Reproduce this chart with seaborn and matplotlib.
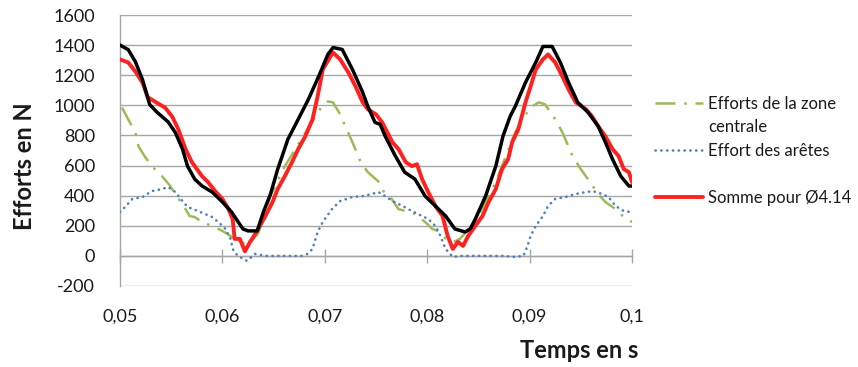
import matplotlib
matplotlib.use("Agg")
import matplotlib.pyplot as plt
from matplotlib.lines import Line2D
import pandas as pd
import seaborn as sns

# ---------------- data ----------------
t_black = [0.0500, 0.0508, 0.0515, 0.0522, 0.0529, 0.0536, 0.0547, 0.0554, 0.0561, 0.0566,
           0.0573, 0.0580, 0.0590, 0.0600, 0.0609, 0.0620, 0.0625, 0.0634, 0.0640, 0.0647,
           0.0654, 0.0664, 0.0674, 0.0684, 0.0694, 0.0703, 0.0708, 0.0717, 0.0727, 0.0737,
           0.0742, 0.0749, 0.0754, 0.0759, 0.0769, 0.0778, 0.0788, 0.0798, 0.0808, 0.0818,
           0.0827, 0.0837, 0.0842, 0.0847, 0.0857, 0.0867, 0.0874, 0.0881, 0.0886, 0.0896,
           0.0906, 0.0913, 0.0922, 0.0930, 0.0938, 0.0947, 0.0957, 0.0967, 0.0974, 0.0981,
           0.0989, 0.0997, 0.1000]
f_black = [1400, 1370, 1290, 1170, 1005, 955, 890, 820, 710, 595,
           510, 465, 424, 358, 291, 179, 166, 166, 291, 411,
           576, 775, 907, 1040, 1192, 1338, 1384, 1371, 1238, 1086,
           993, 887, 874, 795, 662, 556, 510, 397, 331, 265,
           179, 159, 179, 245, 397, 596, 795, 927, 993, 1152,
           1285, 1391, 1391, 1285, 1152, 1020, 954, 861, 755, 642,
           530, 464, 464]

t_somme = [0.0500, 0.0508, 0.0515, 0.0522, 0.0527, 0.0534, 0.0544, 0.0551, 0.0557, 0.0564,
           0.0570, 0.0580, 0.0586, 0.0593, 0.0600, 0.0606, 0.0610, 0.0612, 0.0617, 0.0622,
           0.0627, 0.0629, 0.0635, 0.0642, 0.0649, 0.0654, 0.0661, 0.0668, 0.0674, 0.0681,
           0.0688, 0.0693, 0.0698, 0.0705, 0.0708, 0.0715, 0.0723, 0.0730, 0.0737, 0.0742,
           0.0750, 0.0756, 0.0766, 0.0772, 0.0779, 0.0785, 0.0790, 0.0795, 0.0801, 0.0808,
           0.0815, 0.0820, 0.0825, 0.0830, 0.0835, 0.0840, 0.0847, 0.0854, 0.0860, 0.0867,
           0.0873, 0.0879, 0.0883, 0.0889, 0.0896, 0.0901, 0.0906, 0.0913, 0.0918, 0.0925,
           0.0932, 0.0938, 0.0945, 0.0955, 0.0961, 0.0967, 0.0974, 0.0981, 0.0987, 0.0992,
           0.0997, 0.1000]
f_somme = [1305, 1285, 1225, 1150, 1055, 1025, 985, 925, 840, 710,
           625, 530, 490, 430, 378, 311, 245, 113, 113, 30,
           93, 113, 179, 265, 358, 444, 530, 623, 709, 795,
           907, 1060, 1238, 1318, 1351, 1305, 1219, 1126, 1020, 974,
           940, 887, 755, 709, 623, 596, 609, 510, 424, 331,
           265, 132, 46, 93, 66, 132, 199, 265, 358, 444,
           576, 642, 755, 841, 1020, 1126, 1238, 1305, 1338, 1285,
           1192, 1106, 1020, 974, 927, 861, 795, 709, 662, 576,
           556, 490]

t_zone = [0.0502, 0.0508, 0.0515, 0.0518, 0.0524, 0.0531, 0.0541, 0.0549, 0.0556, 0.0564,
          0.0568, 0.0573, 0.0580, 0.0590, 0.0600, 0.0608, 0.0617, 0.0625, 0.0635, 0.0647,
          0.0661, 0.0679, 0.0697, 0.0703, 0.0708, 0.0715, 0.0720, 0.0727, 0.0735, 0.0742,
          0.0752, 0.0757, 0.0762, 0.0772, 0.0782, 0.0788, 0.0798, 0.0805, 0.0813, 0.0818,
          0.0826, 0.0832, 0.0847, 0.0857, 0.0867, 0.0873, 0.0886, 0.0893, 0.0901, 0.0909,
          0.0915, 0.0925, 0.0932, 0.0942, 0.0950, 0.0957, 0.0967, 0.0974, 0.0984, 0.0992,
          0.1000]
f_zone = [985, 907, 821, 729, 662, 596, 530, 464, 391, 311,
          265, 258, 225, 199, 166, 132, 95, 70, 150, 400,
          596, 795, 993, 1026, 1020, 940, 861, 755, 623, 556,
          497, 430, 411, 311, 291, 278, 225, 179, 159, 113,
          93, 113, 225, 358, 490, 596, 821, 907, 987, 1020,
          1007, 907, 821, 662, 576, 510, 411, 358, 311, 258,
          225]

t_aretes = [0.0500, 0.0505, 0.0512, 0.0522, 0.0531, 0.0541, 0.0547, 0.0554, 0.0561, 0.0566,
            0.0576, 0.0583, 0.0590, 0.0596, 0.0603, 0.0608, 0.0610, 0.0615, 0.0624, 0.0632,
            0.0642, 0.0654, 0.0668, 0.0678, 0.0683, 0.0688, 0.0693, 0.0698, 0.0707, 0.0715,
            0.0727, 0.0737, 0.0746, 0.0752, 0.0756, 0.0766, 0.0776, 0.0785, 0.0791, 0.0801,
            0.0808, 0.0813, 0.0818, 0.0825, 0.0834, 0.0847, 0.0860, 0.0873, 0.0886, 0.0894,
            0.0898, 0.0901, 0.0906, 0.0913, 0.0918, 0.0925, 0.0935, 0.0945, 0.0955, 0.0962,
            0.0971, 0.0977, 0.0984, 0.0992, 0.0999]
f_aretes = [291, 325, 378, 391, 430, 444, 457, 424, 364, 325,
            298, 278, 258, 225, 179, 113, 46, 0, -33, 13,
            0, 0, 0, 0, 13, 46, 159, 225, 311, 364,
            391, 397, 411, 424, 411, 364, 331, 298, 278, 245,
            199, 132, 46, -7, 0, 0, 0, 0, -7, 0,
            66, 132, 199, 265, 331, 378, 391, 411, 424, 430,
            411, 391, 331, 298, 291]

x_ticks = [0.05, 0.06, 0.07, 0.08, 0.09, 0.10]
x_tick_labels = ["0,05", "0,06", "0,07", "0,08", "0,09", "0,1"]
y_ticks = [-200, 0, 200, 400, 600, 800, 1000, 1200, 1400, 1600]
y_tick_labels = ["-200", "0", "200", "400", "600", "800", "1000", "1200", "1400", "1600"]

label_zone = ["Efforts de la zone", "centrale"]
label_aretes = "Effort des arêtes"
label_somme = "Somme pour Ø4.14"
x_title = "Temps en s"
y_title = "Efforts en N"

# ---------------- styling ----------------
sns.set_theme(style="white")
plt.rcParams["font.family"] = ["Lato", "DejaVu Sans"]
TEXT = "#1a1a1a"
GRID = "#a6a6a6"
C_ZONE = "#9BBB59"
C_ARETES = "#4F81BD"
C_SOMME = "#FF2020"
C_BLACK = "#000000"

fig = plt.figure(figsize=(8.58, 3.67), dpi=100, facecolor="white")
ax = fig.add_axes([120 / 858, 1 - 286 / 367, (632 - 120) / 858, (286 - 15) / 367])

zone_ls = (0, (8, 3.5, 1, 3.5))
dot_ls = (0, (0.1, 2.1))

df_zone = pd.DataFrame({"t": t_zone, "F": f_zone})
df_aretes = pd.DataFrame({"t": t_aretes, "F": f_aretes})
df_somme = pd.DataFrame({"t": t_somme, "F": f_somme})
df_black = pd.DataFrame({"t": t_black, "F": f_black})

sns.lineplot(data=df_zone, x="t", y="F", ax=ax, color=C_ZONE, lw=1.8,
             linestyle=zone_ls, errorbar=None, zorder=3)
sns.lineplot(data=df_aretes, x="t", y="F", ax=ax, color=C_ARETES, lw=1.9,
             linestyle=dot_ls, dash_capstyle="round", errorbar=None, zorder=3)
sns.lineplot(data=df_somme, x="t", y="F", ax=ax, color=C_SOMME, lw=2.8,
             errorbar=None, zorder=4)
sns.lineplot(data=df_black, x="t", y="F", ax=ax, color=C_BLACK, lw=2.5,
             errorbar=None, zorder=5)

ax.set_xlim(0.05, 0.1)
ax.set_ylim(-200, 1600)
ax.set_xlabel("")
ax.set_ylabel("")

# y axis
ax.set_yticks(y_ticks, labels=y_tick_labels)
ax.tick_params(axis="y", length=0, pad=18, labelsize=13, labelcolor=TEXT)
ax.yaxis.grid(True, color=GRID, lw=1.0)
ax.xaxis.grid(False)
for s in ["top", "right"]:
    ax.spines[s].set_visible(False)
ax.spines["left"].set_color(GRID)
ax.spines["left"].set_linewidth(1.0)

# x axis line crossing at 0 with cross ticks
ax.spines["bottom"].set_position(("data", 0))
ax.spines["bottom"].set_color(GRID)
ax.spines["bottom"].set_linewidth(1.0)
ax.set_xticks(x_ticks)
ax.tick_params(axis="x", direction="inout", length=10, width=1.0, color=GRID,
               labelbottom=False, bottom=True)

secax = ax.secondary_xaxis("bottom")
secax.set_xticks(x_ticks, labels=x_tick_labels)
secax.tick_params(length=0, pad=16, labelsize=13, labelcolor=TEXT)
secax.spines["bottom"].set_visible(False)

# axis titles
fig.text(25 / 858, 1 - 166 / 367, y_title, rotation=90, ha="center", va="center",
         fontsize=17, fontweight="bold", color=TEXT)
fig.text(638 / 858, 1 - 350 / 367, x_title, ha="right", va="center",
         fontsize=17, fontweight="bold", color=TEXT)

# legend
handles = [
    Line2D([], [], color=C_ZONE, lw=1.8, linestyle=zone_ls),
    Line2D([], [], color="none"),
    Line2D([], [], color=C_ARETES, lw=1.9, linestyle=dot_ls, dash_capstyle="round"),
    Line2D([], [], color="none"),
    Line2D([], [], color=C_SOMME, lw=2.8),
]
labels = [label_zone[0], label_zone[1], label_aretes, " ", label_somme]
leg = fig.legend(handles, labels, loc="upper left",
                 bbox_to_anchor=(655 / 858, 1 - 96 / 367),
                 frameon=False, borderpad=0, borderaxespad=0,
                 handlelength=2.9, handletextpad=0.3, labelspacing=0.45,
                 fontsize=12, labelcolor=TEXT)

fig.savefig("out.png", dpi=100, facecolor="white")
